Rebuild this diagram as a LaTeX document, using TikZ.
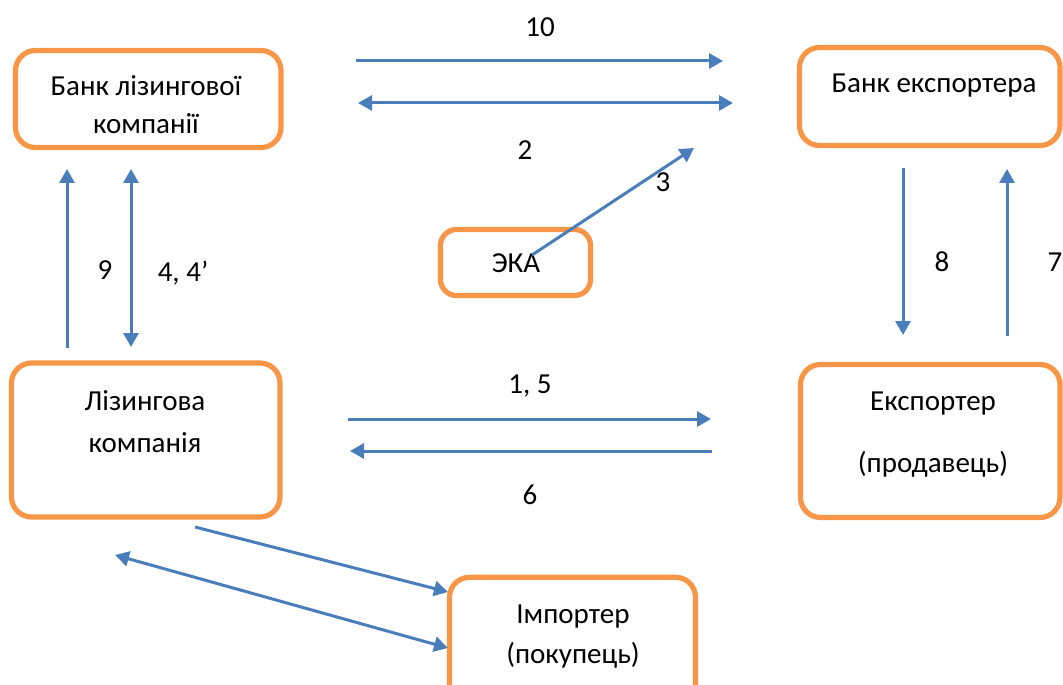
\documentclass[tikz,border=0pt]{standalone}
\usepackage{fontspec}
\setmainfont{Carlito}
\usetikzlibrary{arrows.meta}
\definecolor{boxorange}{HTML}{F79646}
\definecolor{flowblue}{HTML}{4A7EBB}

\begin{document}
\begin{tikzpicture}[x=0.5pt,y=-0.5pt,
        box/.style={draw=boxorange,line width=2.6pt,rounded corners=10pt,inner sep=0pt},
        txt/.style={align=center,font=\fontsize{14.5}{19}\selectfont},
        num/.style={font=\fontsize{14.5}{19}\selectfont,inner sep=0pt},
        flow/.style={draw=flowblue,line width=1.5pt,-{Triangle[length=7pt,width=7.5pt]}},
        twoway/.style={flow,{Triangle[length=7pt,width=7.5pt]}-{Triangle[length=7pt,width=7.5pt]}}]
        \clip (0,0) rectangle (1063,684);
        % boxes
        \node[box,minimum width=132.75pt,minimum height=48.5pt] (bl) at (148.25,99) {};
        \node[box,minimum width=130.25pt,minimum height=49pt] (be) at (929.75,96.5) {};
        \node[box,rounded corners=8pt,minimum width=75pt,minimum height=33pt] (eka) at (515.5,262.5) {};
        \node[box,minimum width=134.25pt,minimum height=77pt] (lc) at (145.75,440) {};
        \node[box,minimum width=129.75pt,minimum height=76.5pt] (ex) at (930.25,441) {};
        \node[box,minimum width=123pt,minimum height=63.75pt] (im) at (572.5,641) {};
        % texts
        \node[txt] (bl-t) at (146,107) {\strut Банк лізингової\\\strut компанії};
        \node[txt] (be-t) at (934,85) {\strut Банк експортера};
        \node[txt] (eka-t) at (516,265) {\strut ЭКА};
        \node[txt] (lc-t) at (145,424) {\strut Лізингова\\[2pt]\strut компанія};
        \node[txt] (ex-t) at (933,434) {\strut Експортер\\[12pt]\strut (продавець)};
        \node[txt] (im-t) at (573,636) {\strut Імпортер\\[1pt]\strut (покупець)};
        % arrow ends
        \coordinate (f10a) at (356,61);   \coordinate (f10b) at (723,61);
        \coordinate (f2a) at (358,103);   \coordinate (f2b) at (733,103);
        \coordinate (f3a) at (532,255);   \coordinate (f3b) at (694,148);
        \coordinate (f9a) at (67,348);    \coordinate (f9b) at (67,169);
        \coordinate (f4a) at (131,169);   \coordinate (f4b) at (131,347);
        \coordinate (f8a) at (903,168);   \coordinate (f8b) at (903,335);
        \coordinate (f7a) at (1007,336);  \coordinate (f7b) at (1007,169);
        \coordinate (f1a) at (348,419);   \coordinate (f1b) at (711,419);
        \coordinate (f6a) at (712,451);   \coordinate (f6b) at (350,451);
        \coordinate (fia) at (195,527);   \coordinate (fib) at (448,592);
        \coordinate (fja) at (115,555);   \coordinate (fjb) at (448,648);
        \foreach \s/\e in {f10a/f10b,f3a/f3b,f9a/f9b,f8a/f8b,f7a/f7b,f1a/f1b,f6a/f6b,fia/fib}
            \draw[flow] (\s) -- (\e);
        \foreach \s/\e in {f2a/f2b,f4a/f4b,fja/fjb}
            \draw[twoway] (\s) -- (\e);
        % step numbers
        \foreach \n/\x/\y/\t in {n10/540/27/10,n2/525/150/2,n3/663/182/3,n9/105/270/9,
                n4/183/273/{4, 4’},n8/942/262/8,n7/1055/262/7,n15/530/386/{1, 5},n6/530/495/6}
            \node[num] (\n) at (\x,\y) {\t};
    \end{tikzpicture}
\end{document}
